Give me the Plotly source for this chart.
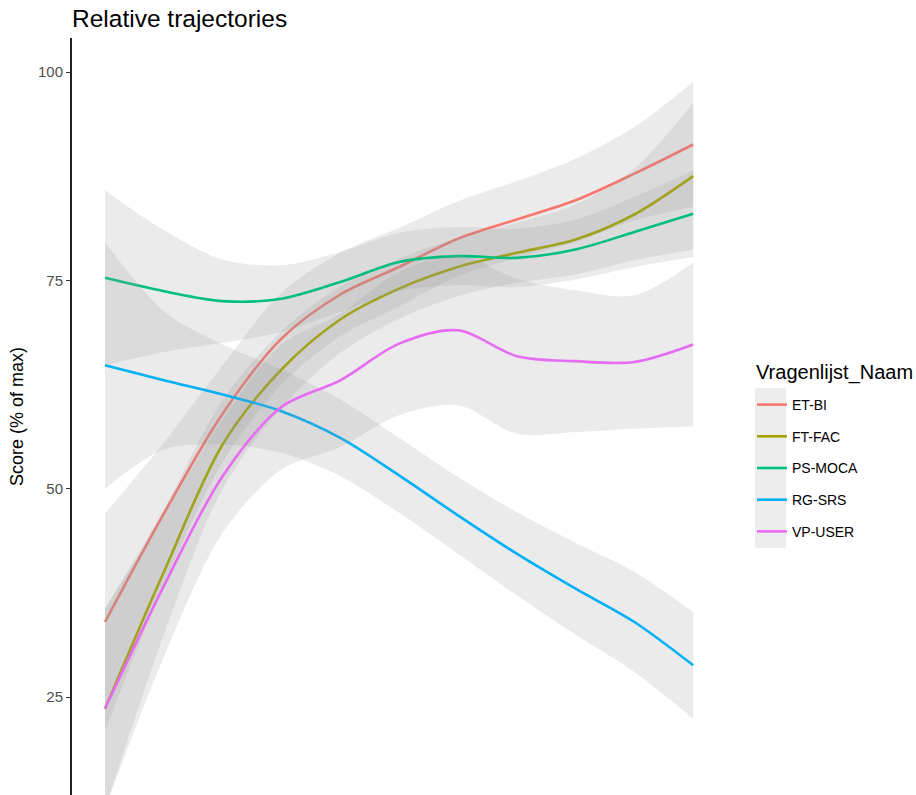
import plotly.graph_objects as go

# Time axis (relative position along the follow-up period)
x_vals = [0, 1, 2, 3, 4, 5, 6, 7, 8, 9, 10]

series_names = ["ET-BI", "FT-FAC", "PS-MOCA", "RG-SRS", "VP-USER"]
series_colors = ["#F8766D", "#A3A500", "#00BF7D", "#00B0F6", "#E76BF3"]

# Smoothed score (% of max) per questionnaire
et_bi = [34.0, 47.0, 59.0, 68.0, 73.3, 76.6, 80.0, 82.3, 84.6, 87.8, 91.3]
ft_fac = [23.6, 40.0, 55.3, 64.3, 70.3, 74.0, 76.6, 78.3, 79.9, 82.9, 87.5]
ps_moca = [75.3, 73.7, 72.5, 72.8, 74.8, 77.2, 77.9, 77.7, 78.7, 80.8, 83.0]
rg_srs = [64.8, 63.0, 61.3, 59.3, 56.1, 51.6, 46.8, 42.2, 38.0, 34.0, 28.8]
vp_user = [23.6, 38.3, 51.5, 59.8, 63.0, 67.4, 69.0, 65.9, 65.3, 65.2, 67.3]

# Half-width of the confidence band around each smooth
et_bi_ci = [13.0, 8.5, 5.8, 5.5, 5.0, 4.7, 4.5, 4.6, 5.0, 5.6, 7.5]
ft_fac_ci = [12.0, 7.5, 5.3, 4.6, 4.0, 3.6, 3.5, 3.6, 4.2, 5.5, 8.8]
ps_moca_ci = [10.5, 7.3, 5.0, 4.0, 3.6, 3.5, 3.5, 3.5, 3.6, 4.2, 5.2]
rg_srs_ci = [14.8, 8.3, 6.0, 5.0, 4.6, 4.5, 4.6, 5.0, 5.5, 6.0, 6.4]
vp_user_ci = [12.0, 8.5, 6.8, 7.5, 8.0, 8.6, 9.0, 9.3, 8.5, 8.0, 9.8]

series_values = [et_bi, ft_fac, ps_moca, rg_srs, vp_user]
series_ci = [et_bi_ci, ft_fac_ci, ps_moca_ci, rg_srs_ci, vp_user_ci]

y_ticks = [25, 50, 75, 100]

band_fill = "rgba(153,153,153,0.2)"
spline = dict(shape="spline", smoothing=0.9)

fig = go.Figure()

for name, color, vals, ci in zip(series_names, series_colors, series_values, series_ci):
    lower = [v - c for v, c in zip(vals, ci)]
    upper = [v + c for v, c in zip(vals, ci)]
    fig.add_trace(go.Scatter(
        x=x_vals, y=lower, mode="lines", line=dict(width=0, **spline),
        showlegend=False, hoverinfo="skip",
    ))
    fig.add_trace(go.Scatter(
        x=x_vals, y=upper, mode="lines", fill="tonexty", fillcolor=band_fill,
        line=dict(width=0, **spline), showlegend=False, hoverinfo="skip",
    ))
    fig.add_trace(go.Scatter(
        x=x_vals, y=vals, mode="lines", name=name, legendgroup=name,
        line=dict(color=color, width=2.6, **spline),
    ))


def px_to_paper_x(px):
    return (px - 72) / 650


def px_to_paper_y(py):
    return 1 - (py - 38) / 757


# Grey key background behind the legend symbols
fig.add_shape(
    type="rect", xref="paper", yref="paper", layer="below",
    x0=px_to_paper_x(755), x1=px_to_paper_x(786),
    y0=px_to_paper_y(548), y1=px_to_paper_y(388),
    fillcolor="#ededed", line=dict(width=0),
)

# Legend title
fig.add_annotation(
    text="Vragenlijst_Naam", xref="paper", yref="paper",
    x=px_to_paper_x(754), y=px_to_paper_y(372), xanchor="left", yanchor="middle",
    showarrow=False, font=dict(size=20, color="#000000"),
)

fig.update_layout(
    width=916, height=795,
    margin=dict(l=72, r=194, t=38, b=0),
    paper_bgcolor="white", plot_bgcolor="white",
    font=dict(family="Liberation Sans, Arial, sans-serif", color="#000000"),
    title=dict(
        text="Relative trajectories", x=0, xref="paper", xanchor="left",
        y=1 - 18 / 795, yref="container", yanchor="middle",
        font=dict(size=24.5, color="#000000"),
    ),
    xaxis=dict(visible=False, range=[-0.561, 10.49]),
    yaxis=dict(
        range=[13.24, 104.08], tickvals=y_ticks, ticks="outside", ticklen=4,
        tickwidth=1.2, tickcolor="#333333", showgrid=False, zeroline=False,
        showline=True, linecolor="#222222", linewidth=2,
        tickfont=dict(size=15, color="#4d4d4d"),
        title=dict(text="Score (% of max)", font=dict(size=18, color="#000000"), standoff=10),
    ),
    legend=dict(
        x=px_to_paper_x(752), xanchor="left", y=px_to_paper_y(389), yanchor="top",
        font=dict(size=14, color="#000000"), tracegroupgap=10.5, itemwidth=30,
        bgcolor="rgba(0,0,0,0)",
    ),
)

fig.write_html("out.html")
